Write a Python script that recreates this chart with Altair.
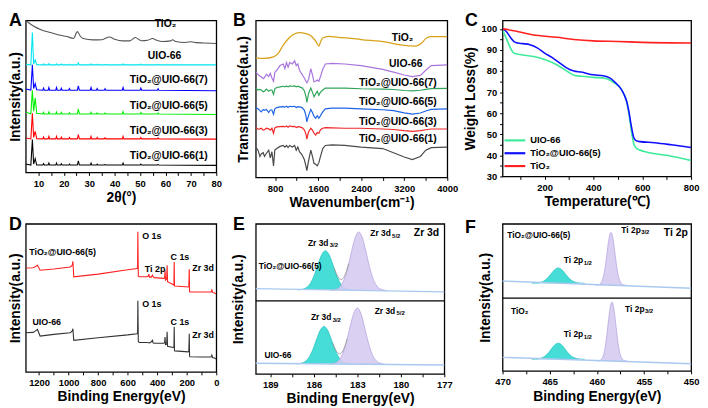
import altair as alt
import pandas as pd

FONT = "Liberation Sans"

# ---------------- Panel A : XRD ----------------
A_X = [5, 7.0, 7.6, 8.1, 8.7, 9.3, 11.7, 12.0, 12.3, 13.8, 14.1, 14.4, 16.8, 17.1, 17.4,
       18.7, 19.0, 19.3, 21.9, 22.2, 22.5, 25.3, 25.7, 26.1, 30.4, 30.7, 31.0, 32.8, 33.1,
       33.4, 35.9, 36.2, 36.5, 43.0, 43.3, 43.6, 50.0, 50.3, 50.6, 56.8, 57.1, 57.4, 80]
A_UIO66 = [104.5, 104, 136.7, 105, 109, 104.2, 104, 105, 104, 104, 105.2, 104, 104, 105, 104,
           104, 104.8, 104, 104, 104.6, 104, 104, 106, 104, 104, 105, 104, 104, 104.6, 104,
           104, 104.5, 104, 104, 105, 104, 104, 104.8, 104, 104, 104.5, 104, 104]
A_T7 = [79.5, 78.5, 104, 80, 85, 78.8, 78.3, 80.5, 78.3, 78.3, 81, 78.3, 78.3, 81, 78.3,
        78.3, 80.3, 78.3, 78.3, 80, 78.3, 78.3, 82.7, 78.3, 78.3, 81, 78.3, 78.3, 80, 78.3,
        78.3, 79.8, 78.3, 78.3, 81, 78.3, 78.3, 80.5, 78.3, 78.3, 79.8, 78.3, 77.8]
A_T5 = [56, 54.5, 78.3, 57, 70.7, 55, 54.3, 56, 54.3, 54.3, 56.3, 54.3, 54.3, 56.3, 54.3,
        54.3, 55.8, 54.3, 54.3, 55.5, 54.3, 54.3, 59.3, 54.3, 54.3, 56, 54.3, 54.3, 55.3, 54.3,
        54.3, 55.2, 54.3, 54.3, 56.5, 54.3, 54.3, 55.8, 54.3, 54.3, 55.2, 54.3, 53.8]
A_T3 = [30, 29, 55, 30.5, 36.7, 29.2, 29, 31, 29, 29, 31.5, 29, 29, 31.5, 29,
        29, 30.8, 29, 29, 30.5, 29, 29, 33.3, 29, 29, 31.5, 29, 29, 30.5, 29,
        29, 30.2, 29, 29, 31.5, 29, 29, 30.5, 29, 29, 30, 29, 28.8]
A_T1 = [3.5, 2.5, 28.3, 3.5, 9.0, 2.5, 2.5, 4.0, 2.5, 2.5, 4.5, 2.5, 2.5, 4.5, 2.5,
        2.5, 3.8, 2.5, 2.5, 3.5, 2.5, 2.5, 6.7, 2.5, 2.5, 4.5, 2.5, 2.5, 3.5, 2.5,
        2.5, 3.2, 2.5, 2.5, 4.5, 2.5, 2.5, 3.5, 2.5, 2.5, 3.0, 2.5, 2.2]
A_TIO2_X = [5, 6, 8, 11, 14.7, 18, 21.2, 23.8, 25.3, 26.5, 27.6, 31.5, 35, 37.9, 40, 43, 46,
            48.1, 50.5, 53, 54.9, 56.5, 58.7, 62, 62.8, 64, 67.7, 70.3, 72, 75, 80]
A_TIO2 = [149, 147, 143.3, 139.5, 136.7, 134.3, 132.7, 130.8, 137.7, 133, 130.7, 129.3, 129.5,
          132.3, 130, 128.3, 128.3, 131.7, 128.5, 129, 130.7, 129, 127.7, 128.3, 129.5, 127.7,
          126.7, 127.5, 126.5, 126.2, 125.7]
A_NAMES = ["TiO₂", "UIO-66", "TiO₂@UIO-66(7)", "TiO₂@UIO-66(5)", "TiO₂@UIO-66(3)", "TiO₂@UIO-66(1)"]
A_COLORS = ["#555555", "#00E5EE", "#0000FF", "#00EE00", "#FF0000", "#000000"]
A_LABEL_X = [60, 59.6, 61.3, 61.3, 61.3, 61.3]
A_LABEL_Y = [145, 112.7, 89, 62, 36.7, 11.7]
A_TICKS = [10, 15, 20, 25, 30, 35, 40, 45, 50, 55, 60, 65, 70, 75, 80]

# ---------------- Panel B : FTIR ----------------
B_X = [439, 481, 517, 541, 578, 602, 638, 680, 710, 740, 770, 794, 830, 891, 951, 981, 1011,
       1041, 1071, 1119, 1162, 1192, 1222, 1252, 1300, 1342, 1372, 1390, 1420, 1463, 1493,
       1523, 1553, 1583, 1613, 1643, 1685, 1733, 1854, 2095, 2396, 2800, 3000, 3200, 3350,
       3500, 3600, 3700, 4000]
B_UIO66 = [108.3, 105.7, 103.7, 103, 101, 102.3, 105.7, 103.3, 106.7, 101.7,
           98.3, 107.7, 110, 115, 116.7, 111.7, 118.3, 113.3, 118.3, 116.7,
           120, 115, 116.7, 110, 105.7, 101.7, 98.3, 96.7, 100, 111.7,
           105, 97.7, 98.3, 99.7, 98.3, 103.3, 111, 116.7, 117.3, 116.7,
           115, 111, 108, 105, 103.3, 104.5, 110, 115, 115.7]
B_T7 = [91, 89, 89.7, 89, 87, 87.7, 90, 87.7, 89, 89,
        84.3, 90.3, 91.7, 92.3, 93, 92.3, 93.3, 92.3, 93.3, 93,
        93.3, 92.3, 93, 92.3, 91.3, 88.3, 82.3, 75.7, 85, 91,
        86.7, 81.7, 85, 87.7, 83.3, 86.7, 89, 91, 91, 91,
        90.3, 90, 89.5, 88.5, 88, 88.7, 89.7, 90.5, 90.7]
B_T5 = [70, 69, 67, 65.7, 68.3, 67.3, 68.3, 65, 67.7, 67.7,
        63.3, 69, 70.3, 71, 71.3, 70.7, 71.7, 70.3, 71.7, 71.3,
        71.7, 70.3, 71.3, 71, 70.3, 67.7, 61.7, 55, 61.7, 68.3,
        65, 61, 59, 61.7, 59, 61.7, 65.7, 69, 69.7, 69.7,
        69, 68, 67, 64.7, 63.3, 64.5, 66.7, 68.3, 69]
B_T3 = [49, 47.3, 47.7, 48.3, 46.3, 46.7, 48.3, 47.7, 46.3, 48.3,
        43, 48.7, 49.7, 50, 50.3, 49.7, 50.7, 49.3, 50.7, 50,
        50.3, 49, 50, 49.7, 49, 46.7, 42.3, 36.7, 44.3, 48.3,
        46.3, 43, 41, 43.7, 43, 46.7, 48.3, 49, 48.7, 48.3,
        48.3, 47.5, 47, 45.7, 45, 45.7, 46.7, 47.5, 47.5]
B_T1 = [28.3, 25, 18.3, 21, 22.3, 18.3, 21.7, 25, 16.7, 23.3,
        8.3, 25, 26.7, 29, 30, 28.3, 30, 27.7, 30, 28.3,
        30, 25, 28.3, 23.3, 20, 15, 8.3, 3.3, 13.3, 25,
        18.3, 11, 10, 8.3, 11.7, 18.3, 26.7, 30, 30.7, 30,
        28.3, 26.7, 22.3, 17.7, 15, 18.3, 25, 27.7, 28.3]
B_TIO2_X = [440, 590, 770, 860, 951, 1041, 1131, 1252, 1372, 1463, 1523, 1565, 1613, 1643,
            1685, 1794, 1974, 2155, 2396, 2861, 3162, 3403, 3524, 3615, 3705, 4000]
B_TIO2 = [123.3, 122.7, 124.3, 128.3, 136.7, 143.3, 147.7, 150, 149, 146.7, 143.3, 140, 135.7,
          140, 144.3, 146, 145, 144.3, 142.7, 140, 136.7, 135.7, 139, 144.3, 145.7, 145.7]
B_COLORS = ["#D9A21B", "#A875DD", "#2FA65A", "#1E64E6", "#F02828", "#4A4A4A"]
B_LABEL_X = [3169, 3229, 3082, 3082, 3082, 3082]
B_LABEL_Y = [144.3, 116.7, 96, 76.7, 55, 36.7]
B_TICKS = [800, 1200, 1600, 2000, 2400, 2800, 3200, 3600, 4000]

# ---------------- Panel C : TGA ----------------
C_UIO_T = [30, 45, 60, 75, 100, 150, 200, 250, 300, 320, 350, 400, 450, 470, 490, 510, 525,
           535, 545, 555, 565, 575, 590, 620, 700, 800]
C_UIO_W = [99, 95, 91, 88.5, 87.8, 87, 85.5, 83, 79.3, 78, 77.5, 77, 76.5, 75.5, 74, 72, 69,
           66, 60, 52, 45.5, 43.5, 42.5, 41.5, 40, 37.5]
C_T5_T = [30, 45, 60, 75, 90, 110, 140, 170, 200, 230, 260, 290, 320, 350, 400, 440, 470, 490,
          510, 525, 535, 545, 555, 565, 575, 590, 650, 720, 800]
C_T5_W = [100, 98.5, 96, 94, 93.3, 93, 92.5, 91, 88.5, 86.5, 84, 81.5, 80, 79.5, 78.2, 77.8,
          76.5, 74.5, 72, 69, 66, 61, 54, 48.5, 47, 46.5, 46, 45, 43.7]
C_TIO2_T = [30, 80, 150, 250, 320, 400, 500, 600, 800]
C_TIO2_W = [100, 99, 97.2, 96, 95, 94.3, 94, 93.6, 93.3]
C_NAMES = ["UIO-66", "TiO₂@UIO-66(5)", "TiO₂"]
C_COLORS = ["#3DEB9A", "#1010FF", "#FF2020"]
C_XTICKS = [100, 200, 300, 400, 500, 600, 700, 800]
C_YTICKS = [30, 35, 40, 45, 50, 55, 60, 65, 70, 75, 80, 85, 90, 95, 100]

# ---------------- Panel D : XPS survey ----------------
D_X = [1290, 1240, 1227, 1211, 1193, 1100, 989, 975, 971, 965, 800, 600, 536, 533, 531, 528,
       522, 470, 460, 457, 452, 440, 432, 428, 420, 355, 350, 347, 344, 336, 333, 330, 300,
       290, 287, 285, 283, 280, 190, 186, 183, 181, 178, 100, 60, 35, 30, 25, 12, 0]
D_T5 = [105.3, 105.5, 106.5, 108, 103, 104.3, 106.3, 108, 112, 96.3, 99, 103.5, 104.7, 106,
        142, 97, 96.3, 96.5, 97, 99, 96, 96, 98, 96.5, 95.5, 94.7, 95, 103, 93, 94, 108, 91.3,
        89, 88, 88, 111.3, 87, 87, 86, 87, 104, 81.5, 81, 81, 81, 81, 83, 80.5, 80, 79]
D_UIO = [39.7, 40, 41.3, 43, 36.3, 38, 39.7, 41.5, 43.7, 32, 34.5, 37.5, 38.7, 40, 72, 31,
         29.7, 29.7, 29.5, 29.5, 29.3, 30.5, 32, 29.5, 29, 29, 29.5, 35.3, 27.5, 28, 40.7, 26,
         25, 24.7, 24.7, 45.7, 21.5, 21.3, 20.3, 21, 38.7, 16, 15.3, 15, 15, 15, 17, 14.5, 14, 13]
D_NAMES = ["TiO₂@UIO-66(5)", "UIO-66"]
D_COLORS = ["#FF2020", "#333333"]
D_LABELS = ["TiO₂@UIO-66(5)", "O 1s", "Ti 2p", "C 1s", "Zr 3d", "UIO-66", "O 1s", "C 1s", "Zr 3d"]
D_LABEL_X = [1267, 502, 484, 310, 163, 1245, 502, 310, 163]
D_LABEL_Y = [121, 137.7, 104.3, 116.3, 104.7, 50.3, 68.7, 50.3, 37.7]
D_TICKS = [1200, 1100, 1000, 900, 800, 700, 600, 500, 400, 300, 200, 100, 0]

# ---------------- Panel E : Zr 3d ----------------
E_BASE_X = [190.0, 177]
E_BASE_TOP = [86.3, 83]
E_BASE_BOT = [10.7, 9]
E_C_TOP_X = [187.1, 186.7, 186.45, 186.2, 185.95, 185.7, 185.45, 185.2, 184.95, 184.7, 184.45, 184.2, 183.95, 183.7, 183.3]
E_C_TOP_Y = [85, 86.0, 88.0, 92.6, 100.7, 111.3, 120.8, 124.7, 120.8, 111.3, 100.7, 92.6, 88.0, 86.0, 85]
E_L_TOP_X = [184.8, 184.4, 184.15, 183.9, 183.65, 183.4, 183.15, 182.9, 182.65, 182.4, 182.15, 181.9, 181.65, 181.4, 181.0]
E_L_TOP_Y = [84.5, 85.9, 89.0, 95.9, 107.9, 123.7, 137.9, 143.7, 137.9, 123.7, 107.9, 95.9, 89.0, 85.9, 84.5]
E_C_BOT_X = [187.2, 186.8, 186.55, 186.3, 186.05, 185.8, 185.55, 185.3, 185.05, 184.8, 184.55, 184.3, 184.05, 183.8, 183.4]
E_C_BOT_Y = [10.1, 11.0, 13.0, 17.4, 25.1, 35.2, 44.3, 48.0, 44.3, 35.2, 25.1, 17.4, 13.0, 11.0, 10.1]
E_L_BOT_X = [184.9, 184.5, 184.25, 184.0, 183.75, 183.5, 183.25, 183.0, 182.75, 182.5, 182.25, 182.0, 181.75, 181.5, 181.1]
E_L_BOT_Y = [9.8, 11.2, 14.1, 20.7, 32.3, 47.5, 61.1, 66.7, 61.1, 47.5, 32.3, 20.7, 14.1, 11.2, 9.8]
E_ENV_TOP_X = [184.6, 184.4, 184.2, 184.1, 184.0, 183.8, 183.6]
E_ENV_TOP_Y = [107.2, 100, 96, 95.6, 96.5, 101.7, 111.6]
E_ENV_BOT_X = [184.7, 184.5, 184.3, 184.2, 184.1, 183.9, 183.7]
E_ENV_BOT_Y = [31.3, 24.5, 20.7, 20.2, 21.1, 26.3, 35.7]
E_DIVIDER = [74]
E_LABELS = ["TiO₂@UIO-66(5)", "UIO-66", "Zr 3d", "Zr 3d", "Zr 3d", "Zr 3d"]
E_LABEL_X = [189.8, 189.4, 186.4, 182.1, 186.2, 181.8]
E_LABEL_Y = [109.7, 19, 133, 142.3, 57.3, 64]
E_SUBS = ["3/2", "5/2", "3/2", "5/2"]
E_SUB_X = [184.9, 180.6, 184.7, 180.3]
E_SUB_Y = [130.5, 139.8, 54.8, 61.5]
E_BIG = ["Zr 3d"]
E_BIG_X = [179.1]
E_BIG_Y = [142.3]
E_TICKS = [189, 187.5, 186, 184.5, 183, 181.5, 180, 178.5, 177]

# ---------------- Panel F : Ti 2p ----------------
F_BASE_X = [470, 450]
F_BASE_TOP = [91, 83.7]
F_BASE_BOT = [13.7, 7.3]
F_C_X = [466.9, 466.5, 466.1, 465.7, 465.3, 464.9, 464.5, 464.1, 463.7, 463.3, 462.9, 462.5, 462.1, 461.7, 461.3]
F_C_TOP_Y = [88.8, 88.9, 89.3, 90.6, 93.4, 97.8, 102.3, 104.3, 102.3, 97.8, 93.4, 90.6, 89.3, 88.9, 88.8]
F_C_BOT_Y = [11.8, 11.9, 12.4, 13.7, 16.6, 21.2, 26.0, 28.0, 26.0, 21.2, 16.6, 13.7, 12.4, 11.9, 11.8]
F_L_TOP_X = [460.1, 459.8, 459.5, 459.3, 459.1, 458.9, 458.7, 458.5, 458.3, 458.1, 457.9, 457.7, 457.5, 457.2, 456.9]
F_L_TOP_Y = [86.8, 87.2, 90.0, 95.5, 106.1, 120.8, 134.6, 140.3, 134.6, 120.8, 106.1, 95.5, 90.0, 87.2, 86.8]
F_L_BOT_X = [460.0, 459.7, 459.4, 459.2, 459.0, 458.8, 458.6, 458.4, 458.2, 458.0, 457.8, 457.6, 457.4, 457.1, 456.8]
F_L_BOT_Y = [10.0, 10.5, 13.5, 19.7, 31.6, 47.9, 63.3, 69.7, 63.3, 47.9, 31.6, 19.7, 13.5, 10.5, 10.0]
F_DIVIDER = [73.7]
F_LABELS = ["TiO₂@UIO-66(5)", "TiO₂", "Ti 2p", "Ti 2p", "Ti 2p", "Ti 2p"]
F_LABEL_X = [469.5, 469.1, 463.5, 457.4, 457.0, 463.5]
F_LABEL_Y = [138, 60.7, 112, 142.7, 63, 37.3]
F_SUBS = ["1/2", "3/2", "3/2", "1/2"]
F_SUB_X = [461.4, 455.3, 454.9, 461.4]
F_SUB_Y = [109.5, 140.2, 60.5, 34.8]
F_BIG = ["Ti 2p"]
F_BIG_X = [452.9]
F_BIG_Y = [139.7]
F_TICKS = [470, 467.5, 465, 462.5, 460, 457.5, 455, 452.5, 450]

CYAN = "#45DDD6"
CYAN_EDGE = "#2CC6C2"
LAV = "#D6CBF0"
LAV_EDGE = "#B8A6E2"
BASE_BLUE = "#A9C9F0"
ENV_GRAY = "#9A9A9A"


# ---------------- helpers ----------------
def ldf(x, y, name):
    return pd.DataFrame({"x": x, "y": y, "s": name})


def tdf(x, y, t):
    return pd.DataFrame({"x": x, "y": y, "t": t})


def encs(dx, dy, xticks, xstep, xtitle, ytitle, ypad, yticks=None, ystep=None, fmt=None):
    kw = dict(values=xticks, title=xtitle, titlePadding=3,
              labelExpr="datum.value %% %s === 0 ? datum.label : ''" % xstep)
    if fmt is not None:
        kw["format"] = fmt
    X = alt.X("x:Q", scale=alt.Scale(domain=dx, nice=False, zero=False), axis=alt.Axis(**kw))
    if yticks is None:
        ax = alt.Axis(title=ytitle, labels=False, ticks=False, titlePadding=ypad)
    else:
        ax = alt.Axis(title=ytitle, values=yticks, titlePadding=ypad,
                      labelExpr="datum.value %% %s === 0 ? datum.label : ''" % ystep)
    Y = alt.Y("y:Q", scale=alt.Scale(domain=dy, nice=False, zero=False), axis=ax)
    return X, Y


def texts(df, X, Y, size, align="center"):
    return alt.Chart(df).mark_text(font=FONT, fontSize=size, fontWeight="bold", align=align,
                                   baseline="middle", color="black").encode(x=X, y=Y, text="t:N")


def letter(t, px, py):
    # panel letter, placed relative to the panel's plot area
    return alt.Chart(pd.DataFrame({"t": [t]})).mark_text(
        font=FONT, fontSize=18, fontWeight="bold", align="left", baseline="alphabetic",
        color="black").encode(x=alt.value(px), y=alt.value(py), text="t:N")


def spacer(w):
    return alt.Chart(pd.DataFrame({"x": [0], "y": [0]})).mark_point(opacity=0).encode(
        x=alt.X("x:Q", axis=None), y=alt.Y("y:Q", axis=None)
    ).properties(width=w, height=10, view=alt.ViewConfig(stroke="transparent"))


# ---------------- A ----------------
XA, YA = encs([5, 80], [-5, 149], A_TICKS, 10, "2θ(°)", "Intensity(a.u.)", 3)
dfA = pd.concat([ldf(A_X, A_UIO66, A_NAMES[1]), ldf(A_X, A_T7, A_NAMES[2]),
                 ldf(A_X, A_T5, A_NAMES[3]), ldf(A_X, A_T3, A_NAMES[4]),
                 ldf(A_X, A_T1, A_NAMES[5])])
colA = alt.Color("s:N", scale=alt.Scale(domain=A_NAMES, range=A_COLORS), legend=None)
pA = alt.layer(
    alt.Chart(ldf(A_TIO2_X, A_TIO2, A_NAMES[0])).mark_line(strokeWidth=1.1, interpolate="monotone", clip=True)
    .encode(x=XA, y=YA, color=colA),
    alt.Chart(dfA).mark_line(strokeWidth=1.1, clip=True).encode(x=XA, y=YA, color=colA),
    texts(tdf(A_LABEL_X, A_LABEL_Y, A_NAMES), XA, YA, 10.5),
    letter("A", -17, 5.5),
).properties(width=193, height=154)

# ---------------- B ----------------
B_NAMES = A_NAMES
XB, YB = encs([440, 4000], [-4, 163], B_TICKS, 800, "Wavenumber(cm⁻¹)", "Transmittance(a.u.)", 5, fmt="d")
dfB = pd.concat([ldf(B_X, B_UIO66, B_NAMES[1]), ldf(B_X, B_T7, B_NAMES[2]),
                 ldf(B_X, B_T5, B_NAMES[3]), ldf(B_X, B_T3, B_NAMES[4]),
                 ldf(B_X, B_T1, B_NAMES[5])])
colB = alt.Color("s:N", scale=alt.Scale(domain=B_NAMES, range=B_COLORS), legend=None)
pB = alt.layer(
    alt.Chart(ldf(B_TIO2_X, B_TIO2, B_NAMES[0])).mark_line(strokeWidth=1.3, interpolate="monotone", clip=True)
    .encode(x=XB, y=YB, color=colB),
    alt.Chart(dfB).mark_line(strokeWidth=1.2, clip=True).encode(x=XB, y=YB, color=colB),
    texts(tdf(B_LABEL_X, B_LABEL_Y, B_NAMES), XB, YB, 10.5),
    letter("B", -23, 5.5),
).properties(width=194, height=159)

# ---------------- C ----------------
XC, YC = encs([28, 800], [30, 104], C_XTICKS, 200, "Temperature(℃)", "Weight Loss(%)", 4,
              yticks=C_YTICKS, ystep=10)
dfC = pd.concat([ldf(C_UIO_T, C_UIO_W, C_NAMES[0]), ldf(C_T5_T, C_T5_W, C_NAMES[1]),
                 ldf(C_TIO2_T, C_TIO2_W, C_NAMES[2])])
colC = alt.Color("s:N", scale=alt.Scale(domain=C_NAMES, range=C_COLORS),
                 legend=alt.Legend(title=None, orient="bottom-left", offset=6, padding=0,
                                   labelFont=FONT, labelFontSize=9.5, labelFontWeight="bold",
                                   labelColor="black", symbolType="M-2,0L2,0", symbolSize=110,
                                   symbolStrokeWidth=2.2, labelOffset=9, rowPadding=2))
pC = alt.layer(
    alt.Chart(dfC).mark_line(strokeWidth=1.6, interpolate="monotone", clip=True).encode(
        x=XC, y=YC, color=colC),
    letter("C", -38, 5.5),
).properties(width=191, height=158)

# ---------------- D ----------------
XD, YD = encs([1290, 0], [0, 150], D_TICKS, 200, "Binding Energy(eV)", "Intensity(a.u.)", 3, fmt="d")
dfD = pd.concat([ldf(D_X, D_T5, D_NAMES[0]), ldf(D_X, D_UIO, D_NAMES[1])])
colD = alt.Color("s:N", scale=alt.Scale(domain=D_NAMES, range=D_COLORS), legend=None)
pD = alt.layer(
    alt.Chart(dfD).mark_line(strokeWidth=1.1, clip=True).encode(x=XD, y=YD, color=colD),
    texts(tdf(D_LABEL_X, D_LABEL_Y, D_LABELS), XD, YD, 9, align="left"),
    letter("D", -17, 6),
).properties(width=193, height=150)


# ---------------- E / F helpers ----------------
def peak_df(x, y, base, g):
    return pd.DataFrame({"x": x, "y": y, "b": [base] * len(x), "g": g})


def area_layer(df, X, Y, fill, edge, op):
    return alt.Chart(df).mark_area(interpolate="monotone", color=fill, opacity=op, clip=True,
                                   line=alt.OverlayMarkDef(color=edge, strokeWidth=0.8)).encode(
        x=X, y=Y, y2=alt.Y2("b:Q"), detail="g:N")


# ---------------- E ----------------
XE, YE = encs([190.0, 177], [0, 152], E_TICKS, 3, "Binding Energy(eV)", "Intensity(a.u.)", 10)
eCyan = pd.concat([peak_df(E_C_TOP_X, E_C_TOP_Y, 85, "t"), peak_df(E_C_BOT_X, E_C_BOT_Y, 10.1, "b")])
eLav = pd.concat([peak_df(E_L_TOP_X, E_L_TOP_Y, 84.5, "t"), peak_df(E_L_BOT_X, E_L_BOT_Y, 9.8, "b")])
eBase = pd.concat([ldf(E_BASE_X, E_BASE_TOP, "t"), ldf(E_BASE_X, E_BASE_BOT, "b")])
eEnv = pd.concat([ldf(E_ENV_TOP_X, E_ENV_TOP_Y, "t"), ldf(E_ENV_BOT_X, E_ENV_BOT_Y, "b")])
pE = alt.layer(
    area_layer(eCyan, XE, YE, CYAN, CYAN_EDGE, 1.0),
    area_layer(eLav, XE, YE, LAV, LAV_EDGE, 0.9),
    alt.Chart(eEnv).mark_line(color=ENV_GRAY, strokeWidth=0.9, interpolate="monotone").encode(x=XE, y=YE, detail="s:N"),
    alt.Chart(eBase).mark_line(color=BASE_BLUE, strokeWidth=1.4).encode(x=XE, y=YE, detail="s:N"),
    alt.Chart(pd.DataFrame({"y": E_DIVIDER})).mark_rule(color="black", strokeWidth=1.3).encode(y=YE),
    texts(tdf(E_LABEL_X, E_LABEL_Y, E_LABELS), XE, YE, 8.5, align="left"),
    texts(tdf(E_SUB_X, E_SUB_Y, E_SUBS), XE, YE, 6, align="left"),
    texts(tdf(E_BIG_X, E_BIG_Y, E_BIG), XE, YE, 10.5, align="left"),
    letter("E", -23, 6),
).properties(width=191, height=152)

# ---------------- F ----------------
XF, YF = encs([470, 450], [0, 149], F_TICKS, 5, "Binding Energy(eV)", "Intensity(a.u.)", 10)
fCyan = pd.concat([peak_df(F_C_X, F_C_TOP_Y, 88.8, "t"), peak_df(F_C_X, F_C_BOT_Y, 11.8, "b")])
fLav = pd.concat([peak_df(F_L_TOP_X, F_L_TOP_Y, 86.8, "t"), peak_df(F_L_BOT_X, F_L_BOT_Y, 10.0, "b")])
fBase = pd.concat([ldf(F_BASE_X, F_BASE_TOP, "t"), ldf(F_BASE_X, F_BASE_BOT, "b")])
pF = alt.layer(
    area_layer(fCyan, XF, YF, CYAN, CYAN_EDGE, 1.0),
    area_layer(fLav, XF, YF, LAV, LAV_EDGE, 0.9),
    alt.Chart(fBase).mark_line(color=BASE_BLUE, strokeWidth=1.4).encode(x=XF, y=YF, detail="s:N"),
    alt.Chart(pd.DataFrame({"y": F_DIVIDER})).mark_rule(color="black", strokeWidth=1.3).encode(y=YF),
    texts(tdf(F_LABEL_X, F_LABEL_Y, F_LABELS), XF, YF, 8.5, align="left"),
    texts(tdf(F_SUB_X, F_SUB_Y, F_SUBS), XF, YF, 6, align="left"),
    texts(tdf(F_BIG_X, F_BIG_Y, F_BIG), XF, YF, 10.5, align="left"),
    letter("F", -38, 9),
).properties(width=191, height=149)

chart = alt.concat(
    pA, spacer(40), pB, spacer(56), pC,
    pD, spacer(40), pE, spacer(56), pF,
    columns=5, spacing={"row": 47, "column": 0}, bounds="flush",
    padding={"left": 0, "top": 0, "right": 0, "bottom": 0},
).resolve_scale(color="independent").configure_axis(
    labelFont=FONT, labelFontSize=9.5, labelFontWeight="bold", labelColor="black",
    titleFont=FONT, titleFontSize=14, titleFontWeight="bold", titleColor="black",
    domain=False, grid=False, tickColor="black", tickWidth=1, tickSize=3, labelPadding=3,
    labelFlush=False, labelOverlap=False
).configure_view(stroke="black", strokeWidth=1.3)

chart.save("out.html", embed_options={"renderer": "svg", "actions": False})
